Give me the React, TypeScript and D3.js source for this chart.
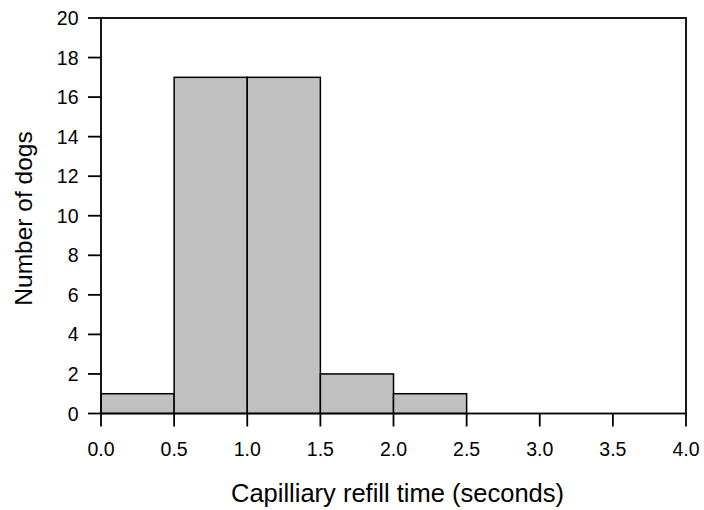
import React from "react";
import * as d3 from "d3";

const binStarts = [0, 0.5, 1.0, 1.5, 2.0, 2.5, 3.0, 3.5];
const binWidth = 0.5;
const counts = [1, 17, 17, 2, 1, 0, 0, 0];
const xTicks = [0, 0.5, 1, 1.5, 2, 2.5, 3, 3.5, 4];
const yTicks = [0, 2, 4, 6, 8, 10, 12, 14, 16, 18, 20];

const W = 704;
const H = 510;
const m = { left: 101, right: 686, top: 18, bottom: 413.5 };
const font = "'Liberation Sans', Arial, Helvetica, sans-serif";

export default function App() {
  const x = d3.scaleLinear().domain([0, 4]).range([m.left, m.right]);
  const y = d3.scaleLinear().domain([0, 20]).range([m.bottom, m.top]);
  return (
    <svg width={W} height={H} style={{ position: "absolute", left: 0, top: 0 }}>
      <rect x={0} y={0} width={W} height={H} fill="#fff" />
      {binStarts.map((b, i) =>
        counts[i] > 0 ? (
          <rect
            key={i}
            x={x(b)}
            y={y(counts[i])}
            width={x(b + binWidth) - x(b)}
            height={y(0) - y(counts[i])}
            fill="#c0c0c0"
            stroke="#000"
            strokeWidth={1.5}
          />
        ) : null
      )}
      <rect
        x={m.left}
        y={m.top}
        width={m.right - m.left}
        height={m.bottom - m.top}
        fill="none"
        stroke="#000"
        strokeWidth={1.8}
      />
      {yTicks.map((t) => (
        <g key={t}>
          <line x1={m.left - 13} x2={m.left} y1={y(t)} y2={y(t)} stroke="#000" strokeWidth={1.8} />
          <text
            x={m.left - 22.5}
            y={y(t)}
            dy="0.36em"
            textAnchor="end"
            fontFamily={font}
            fontSize={19.5}
          >
            {t}
          </text>
        </g>
      ))}
      {xTicks.map((t) => (
        <g key={t}>
          <line x1={x(t)} x2={x(t)} y1={m.bottom} y2={m.bottom + 13} stroke="#000" strokeWidth={1.8} />
          <text
            x={x(t)}
            y={456}
            textAnchor="middle"
            fontFamily={font}
            fontSize={19.5}
          >
            {t.toFixed(1)}
          </text>
        </g>
      ))}
      <text
        x={397.5}
        y={502}
        textAnchor="middle"
        fontFamily={font}
        fontSize={25.5}
      >
        Capilliary refill time (seconds)
      </text>
      <text
        transform={`translate(32,218.5) rotate(-90)`}
        textAnchor="middle"
        fontFamily={font}
        fontSize={24.5}
      >
        Number of dogs
      </text>
    </svg>
  );
}
